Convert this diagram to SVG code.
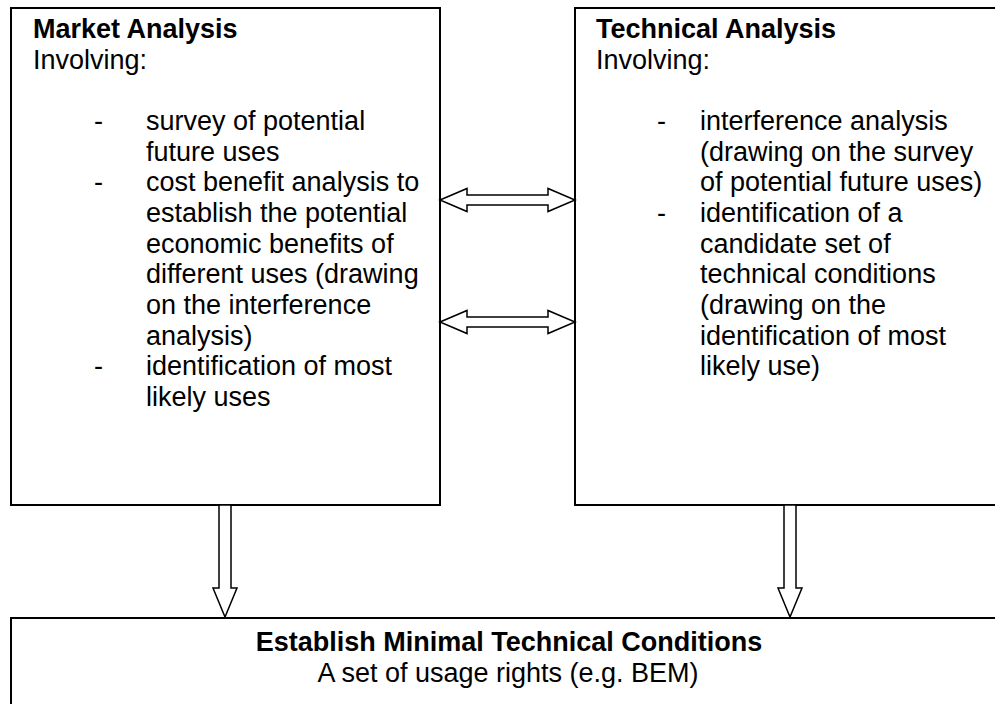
<svg xmlns="http://www.w3.org/2000/svg" width="995" height="704" viewBox="0 0 995 704">
  <style>
    .box { fill: #ffffff; stroke: #000000; stroke-width: 2; }
    .arrow { fill: #ffffff; stroke: #000000; stroke-width: 1.5; stroke-linejoin: miter; }
    text { font-family: "Liberation Sans", Arial, sans-serif; font-size: 27px; fill: #000000; }
    .title { font-weight: bold; }
    .mid { text-anchor: middle; }
  </style>
  <rect width="995" height="704" fill="#ffffff"/>

  <g id="market-analysis">
    <rect class="box" x="11" y="8" width="429" height="497"/>
    <text class="title" x="33" y="38">Market Analysis</text>
    <text x="33" y="68.7">Involving:</text>
    <text x="94" y="130">-</text>
    <text x="146" y="130">survey of potential</text>
    <text x="146" y="160.7">future uses</text>
    <text x="94" y="191.3">-</text>
    <text x="146" y="191.3">cost benefit analysis to</text>
    <text x="146" y="222">establish the potential</text>
    <text x="146" y="252.7">economic benefits of</text>
    <text x="146" y="283.3">different uses (drawing</text>
    <text x="146" y="314">on the interference</text>
    <text x="146" y="344.7">analysis)</text>
    <text x="94" y="375.3">-</text>
    <text x="146" y="375.3">identification of most</text>
    <text x="146" y="406">likely uses</text>
  </g>

  <g id="technical-analysis">
    <rect class="box" x="575" y="8" width="430" height="497"/>
    <text class="title" x="596" y="38">Technical Analysis</text>
    <text x="596" y="68.7">Involving:</text>
    <text x="657" y="130">-</text>
    <text x="700" y="130">interference analysis</text>
    <text x="700" y="160.7">(drawing on the survey</text>
    <text x="700" y="191.3">of potential future uses)</text>
    <text x="657" y="222">-</text>
    <text x="700" y="222">identification of a</text>
    <text x="700" y="252.7">candidate set of</text>
    <text x="700" y="283.3">technical conditions</text>
    <text x="700" y="314">(drawing on the</text>
    <text x="700" y="344.7">identification of most</text>
    <text x="700" y="375.3">likely use)</text>
  </g>

  <g id="minimal-conditions">
    <rect class="box" x="11" y="618" width="1000" height="100"/>
    <text class="title mid" x="509" y="651">Establish Minimal Technical Conditions</text>
    <text class="mid" x="508" y="681.7">A set of usage rights (e.g. BEM)</text>
  </g>

  <g id="connectors">
    <!-- two-way exchange between the analyses -->
    <path class="arrow" d="M440,200 L467,188.5 L467,195 L548,195 L548,188.5 L575,200 L548,211.5 L548,205 L467,205 L467,211.5 Z"/>
    <path class="arrow" d="M440,322 L467,310.5 L467,317 L548,317 L548,310.5 L575,322 L548,333.5 L548,327 L467,327 L467,333.5 Z"/>
    <!-- both analyses feed the minimal conditions -->
    <path class="arrow" d="M219,505 L231,505 L231,588 L237,588 L225,617 L213,588 L219,588 Z"/>
    <path class="arrow" d="M784,505 L796,505 L796,588 L802,588 L790,617 L778,588 L784,588 Z"/>
  </g>
</svg>
